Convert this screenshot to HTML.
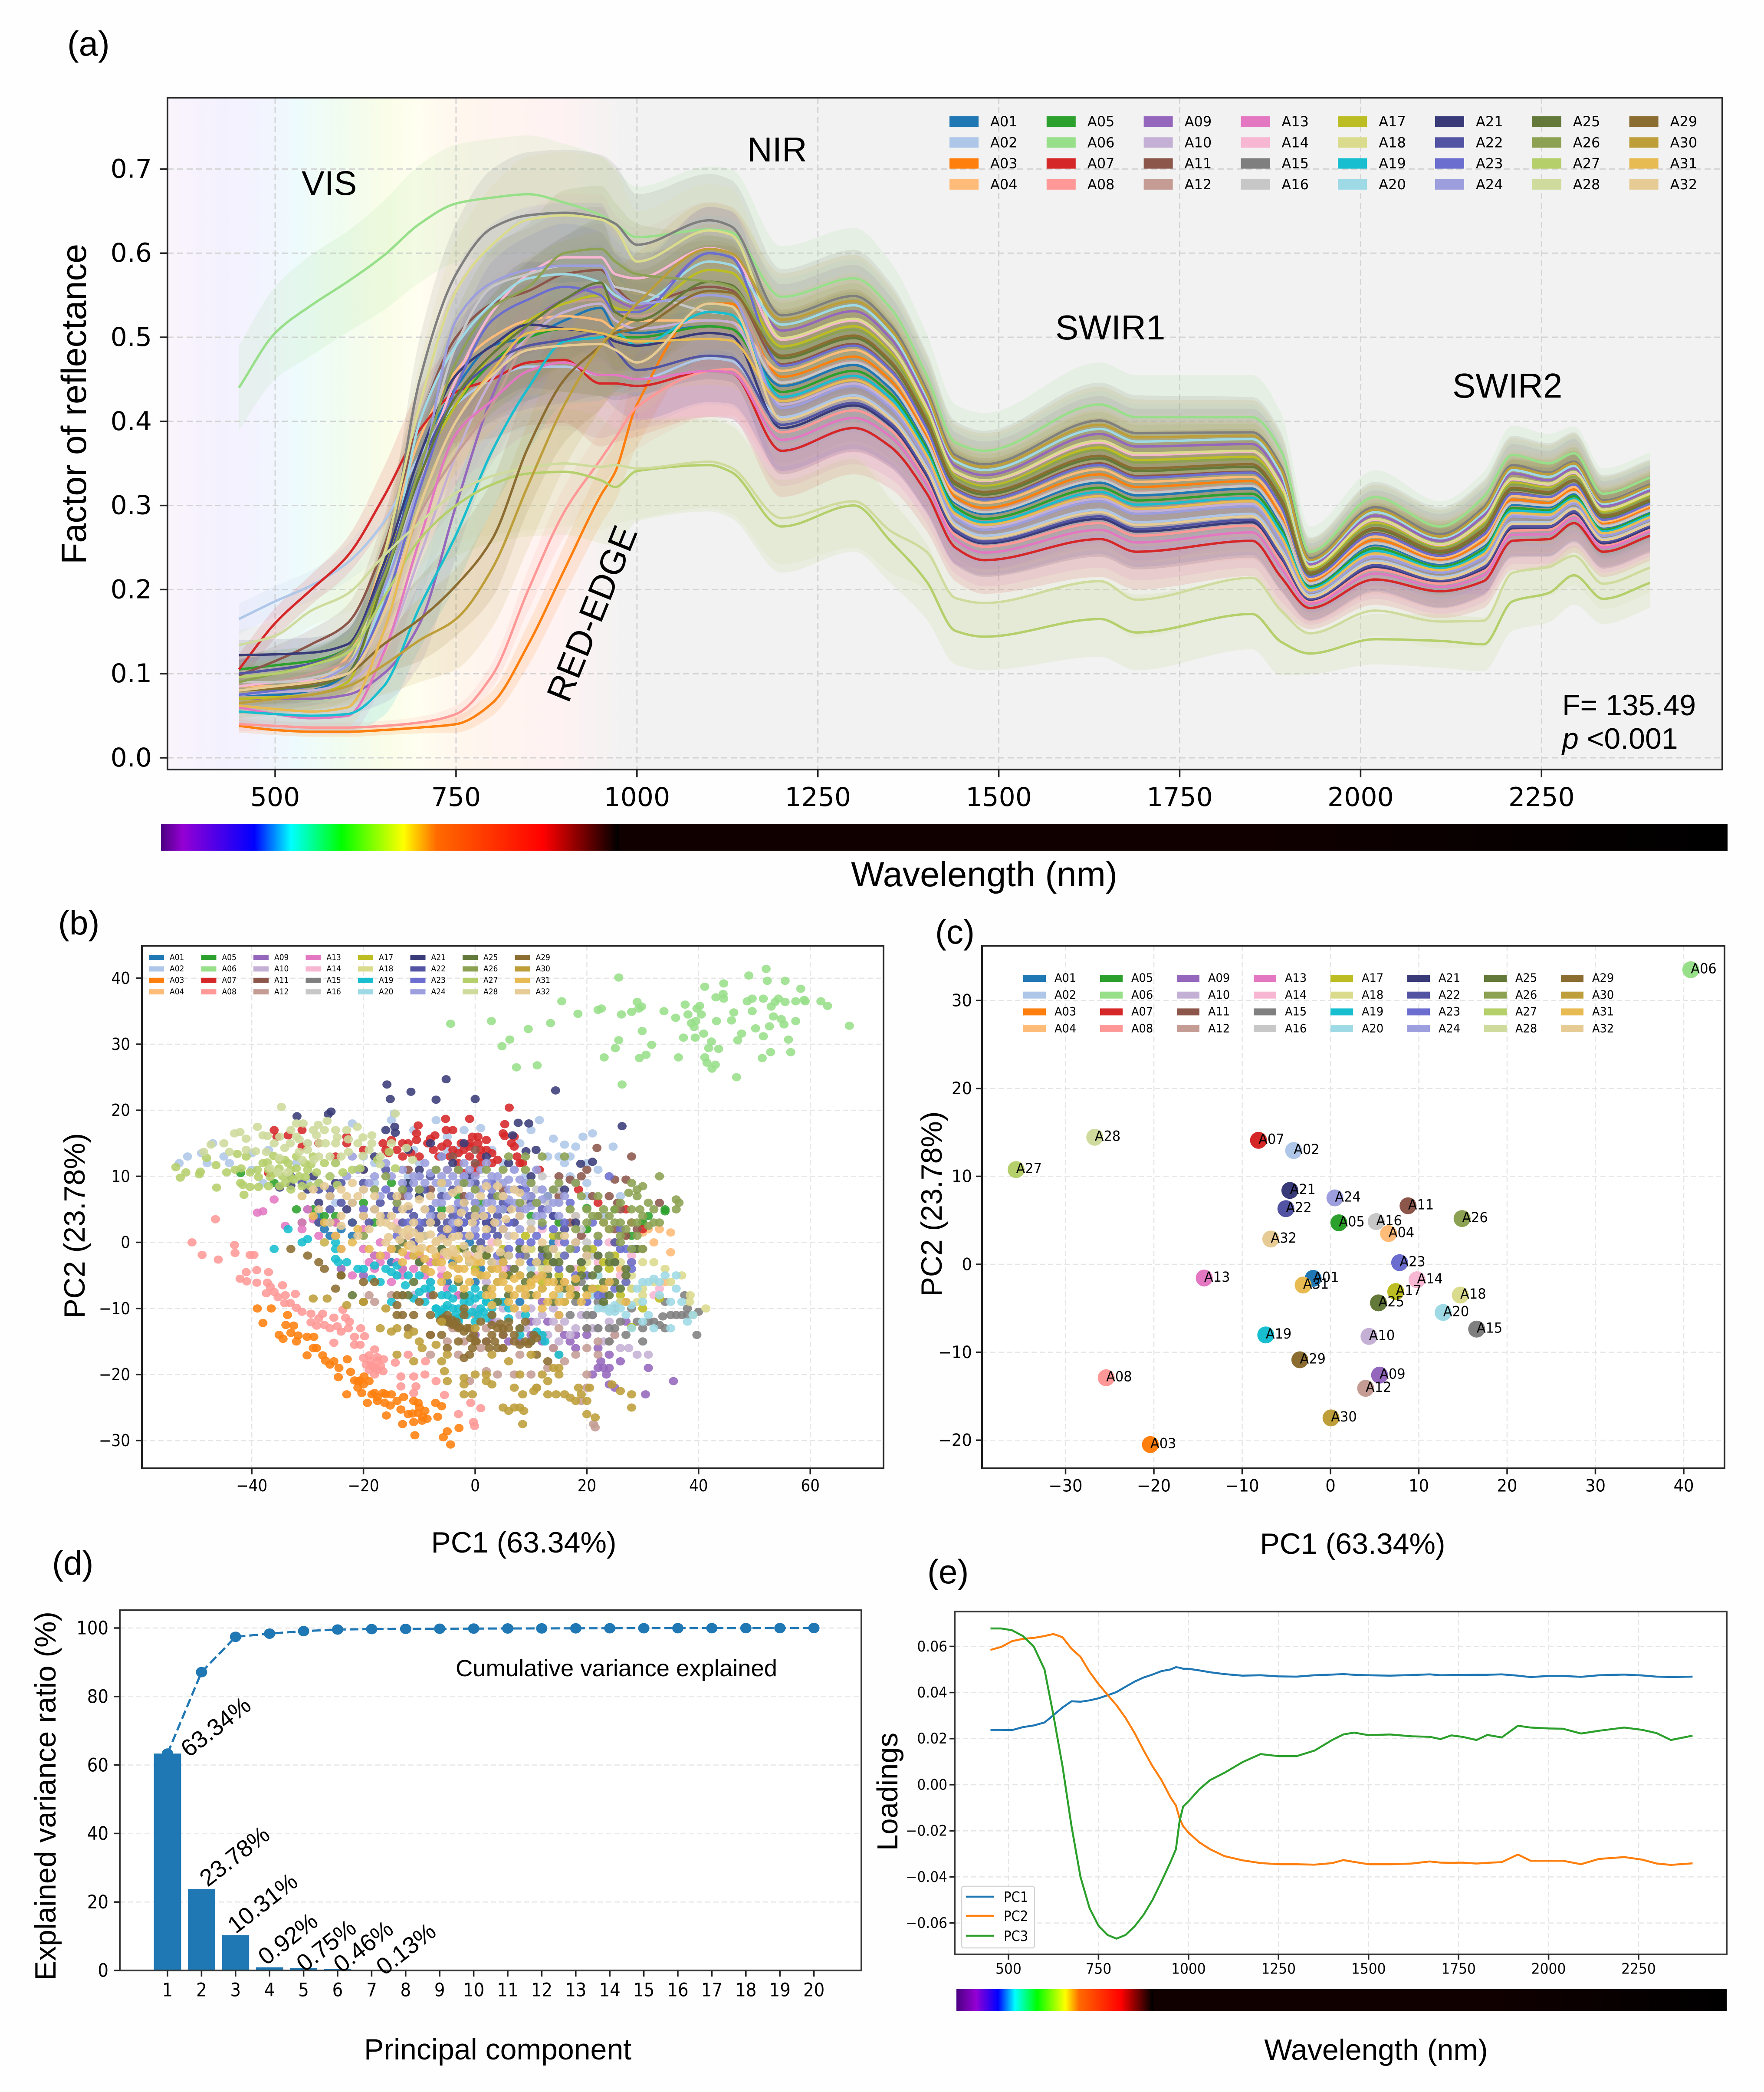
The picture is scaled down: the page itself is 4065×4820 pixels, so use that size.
<!DOCTYPE html>
<html lang="en">
<head>
<meta charset="utf-8">
<title>Spectral reflectance and PCA figure</title>
<style>
html,body{margin:0;padding:0;background:#fff;width:4065px;height:4820px;overflow:hidden}
svg{display:block}
text{fill:#000}
.ls{font-family:"Liberation Sans",sans-serif}
</style>
</head>
<body>
<svg id="figure" xmlns="http://www.w3.org/2000/svg" width="4065" height="4820" viewBox="0 0 4065 4820">
<defs>
<linearGradient id="visBg" gradientUnits="userSpaceOnUse" x1="386" x2="1440" y1="0" y2="0">
<stop offset="0" stop-color="#faf4fc"/><stop offset=".12" stop-color="#f4f1fe"/><stop offset=".22" stop-color="#f2f4fe"/><stop offset=".28" stop-color="#eefbfd"/><stop offset=".38" stop-color="#f1fcf0"/><stop offset=".48" stop-color="#fafde8"/><stop offset=".54" stop-color="#fffff0"/><stop offset=".64" stop-color="#fff6ee"/><stop offset=".85" stop-color="#fff2f2"/><stop offset="1" stop-color="#f2f2f2"/>
</linearGradient>
<linearGradient id="barA" gradientUnits="userSpaceOnUse" x1="371" x2="3981" y1="0" y2="0">
<stop offset="0" stop-color="#4b0082"/><stop offset=".0138" stop-color="#9400d3"/><stop offset=".0596" stop-color="#0000ff"/><stop offset=".083" stop-color="#00ffff"/><stop offset=".1154" stop-color="#00ff00"/><stop offset=".1548" stop-color="#ffff00"/><stop offset=".1759" stop-color="#ff6a00"/><stop offset=".244" stop-color="#ff0000"/><stop offset=".292" stop-color="#000000"/><stop offset=".2925" stop-color="#100000"/><stop offset=".7" stop-color="#100000"/><stop offset="1" stop-color="#000"/>
</linearGradient>
<linearGradient id="barE" gradientUnits="userSpaceOnUse" x1="2204" x2="3979" y1="0" y2="0">
<stop offset="0" stop-color="#4b0082"/><stop offset=".0254" stop-color="#9400d3"/><stop offset=".054" stop-color="#0000ff"/><stop offset=".076" stop-color="#00ffff"/><stop offset=".105" stop-color="#00ff00"/><stop offset=".1414" stop-color="#ffff00"/><stop offset=".1594" stop-color="#ff6a00"/><stop offset=".2135" stop-color="#ff0000"/><stop offset=".2546" stop-color="#000"/><stop offset=".256" stop-color="#100000"/><stop offset=".7" stop-color="#100000"/><stop offset="1" stop-color="#000"/>
</linearGradient>
<clipPath id="clipA"><rect x="386" y="225" width="3583" height="1548"/></clipPath>
<clipPath id="clipB"><rect x="327" y="2179" width="1709" height="1204"/></clipPath>
<clipPath id="clipC"><rect x="2263" y="2179" width="1711" height="1204"/></clipPath>
<clipPath id="clipE"><rect x="2200" y="3713" width="1779" height="790"/></clipPath>
</defs>
<rect width="4065" height="4820" fill="#fefefe"/>

<!-- panel a -->
<g id="panelA">
<rect x="386" y="225" width="3583" height="1548" fill="#f2f2f2"/>
<rect x="386" y="225" width="1054" height="1548" fill="url(#visBg)"/>
<g id="aGrid"></g>
<g id="aBands" clip-path="url(#clipA)"></g>
<g id="aSeries" clip-path="url(#clipA)"></g>
<g id="aLegend"></g>
<rect x="386" y="225" width="3583" height="1548" fill="none" stroke="#222" stroke-width="4"/>
<g id="aTicks"></g>
<text class="ls" x="155" y="128" font-size="80">(a)</text>
<text class="ls" x="695" y="449" font-size="79">VIS</text>
<text class="ls" x="1722" y="372" font-size="80">NIR</text>
<text class="ls" x="2432" y="782" font-size="80">SWIR1</text>
<text class="ls" x="3347" y="916" font-size="80">SWIR2</text>
<text class="ls" font-size="81" text-anchor="middle" transform="translate(1390,1424) rotate(-68)">RED-EDGE</text>
<text class="ls" x="3600" y="1648" font-size="68">F= 135.49</text>
<text class="ls" x="3600" y="1725" font-size="68"><tspan font-style="italic">p</tspan> &lt;0.001</text>
<text class="ls" font-size="81" text-anchor="middle" transform="translate(198,931) rotate(-90)">Factor of reflectance</text>
<rect x="371" y="1898" width="3610" height="62" fill="url(#barA)"/>
<text class="ls" x="2268" y="2042" font-size="81" text-anchor="middle">Wavelength (nm)</text>
</g>

<!-- panel b -->
<g id="panelB">
<rect x="327" y="2179" width="1709" height="1204" fill="#fff"/>
<g id="bGrid"></g>
<g id="bPoints" clip-path="url(#clipB)"></g>
<g id="bLegend"></g>
<rect x="327" y="2179" width="1709" height="1204" fill="none" stroke="#222" stroke-width="4"/>
<g id="bTicks"></g>
<text class="ls" x="134" y="2153" font-size="78">(b)</text>
<text class="ls" font-size="68" text-anchor="middle" transform="translate(195,2824) rotate(-90)">PC2 (23.78%)</text>
<text class="ls" x="1207" y="3577" font-size="68" text-anchor="middle">PC1 (63.34%)</text>
</g>

<!-- panel c -->
<g id="panelC">
<rect x="2263" y="2179" width="1711" height="1204" fill="#fff"/>
<g id="cGrid"></g>
<g id="cLegend"></g>
<g id="cPoints" clip-path="url(#clipC)"></g>
<rect x="2263" y="2179" width="1711" height="1204" fill="none" stroke="#222" stroke-width="4"/>
<g id="cTicks"></g>
<text class="ls" x="2155" y="2174" font-size="78">(c)</text>
<text class="ls" font-size="68" text-anchor="middle" transform="translate(2170,2774) rotate(-90)">PC2 (23.78%)</text>
<text class="ls" x="3117" y="3580" font-size="68" text-anchor="middle">PC1 (63.34%)</text>
</g>

<!-- panel d -->
<g id="panelD">
<rect x="276" y="3710" width="1709" height="830" fill="#fff"/>
<g id="dGrid"></g>
<g id="dBars"></g>
<g id="dLine"></g>
<rect x="276" y="3710" width="1709" height="830" fill="none" stroke="#333" stroke-width="4"/>
<g id="dTicks"></g>
<g id="dLabels"></g>
<text class="ls" x="120" y="3628" font-size="78">(d)</text>
<text class="ls" x="1050" y="3862" font-size="54" textLength="741" lengthAdjust="spacingAndGlyphs">Cumulative variance explained</text>
<text class="ls" font-size="68" text-anchor="middle" transform="translate(128,4138) rotate(-90)">Explained variance ratio (%)</text>
<text class="ls" x="1147" y="4745" font-size="68" text-anchor="middle">Principal component</text>
</g>

<!-- panel e -->
<g id="panelE">
<rect x="2200" y="3713" width="1779" height="790" fill="#fff"/>
<g id="eGrid"></g>
<g id="eLines" clip-path="url(#clipE)"></g>
<g>
<rect x="2216" y="4346" width="168" height="142" rx="5" fill="#fff" fill-opacity=".85" stroke="#d5d5d5" stroke-width="2.5"/>
<line x1="2226" x2="2290" y1="4370" y2="4370" stroke="#1f77b4" stroke-width="4.5"/>
<line x1="2226" x2="2290" y1="4414" y2="4414" stroke="#ff7f0e" stroke-width="4.5"/>
<line x1="2226" x2="2290" y1="4460" y2="4460" stroke="#2ca02c" stroke-width="4.5"/>
<text font-family="'DejaVu Sans',sans-serif" font-size="33" transform="translate(2313,4382) scale(.88,1)">PC1</text>
<text font-family="'DejaVu Sans',sans-serif" font-size="33" transform="translate(2313,4426) scale(.88,1)">PC2</text>
<text font-family="'DejaVu Sans',sans-serif" font-size="33" transform="translate(2313,4472) scale(.88,1)">PC3</text>
</g>
<rect x="2200" y="3713" width="1779" height="790" fill="none" stroke="#333" stroke-width="4"/>
<g id="eTicks"></g>
<text class="ls" x="2137" y="3648" font-size="78">(e)</text>
<text class="ls" font-size="67" text-anchor="middle" transform="translate(2068,4128) rotate(-90)">Loadings</text>
<rect x="2204" y="4583" width="1775" height="51" fill="url(#barE)"/>
<text class="ls" x="3171" y="4746" font-size="68" text-anchor="middle">Wavelength (nm)</text>
</g>
</svg>

<script>
// ---------- shared categories ----------
const groupNames = ['A01','A02','A03','A04','A05','A06','A07','A08','A09','A10','A11','A12','A13','A14','A15','A16','A17','A18','A19','A20','A21','A22','A23','A24','A25','A26','A27','A28','A29','A30','A31','A32'];
const groupColors = ['#1f77b4','#aec7e8','#ff7f0e','#ffbb78','#2ca02c','#98df8a','#d62728','#ff9896','#9467bd','#c5b0d5','#8c564b','#c49c94','#e377c2','#f7b6d2','#7f7f7f','#c7c7c7','#bcbd22','#dbdb8d','#17becf','#9edae5','#393b79','#5254a3','#6b6ecf','#9c9ede','#637939','#8ca252','#b5cf6b','#cedb9c','#8c6d31','#bd9e39','#e7ba52','#e7cb94'];

// ---------- panel a data ----------
const aWavelengths = [450,500,550,600,650,700,750,800,850,900,950,970,1000,1100,1130,1200,1300,1350,1400,1440,1480,1640,1690,1850,1890,1930,2020,2110,2170,2210,2260,2295,2335,2400];
const aXTicks = [500,750,1000,1250,1500,1750,2000,2250];
const aYTicks = [0,0.1,0.2,0.3,0.4,0.5,0.6,0.7];
const rA01 = [.075,.075,.08,.10,.21,.36,.44,.49,.50,.52,.535,.51,.505,.513,.51,.442,.467,.439,.374,.303,.29,.327,.312,.32,.278,.206,.253,.23,.252,.301,.298,.314,.274,.293];
const rA02 = [.165,.186,.205,.232,.28,.36,.42,.45,.465,.465,.455,.455,.45,.475,.472,.405,.431,.406,.346,.278,.264,.295,.28,.29,.248,.193,.234,.215,.232,.28,.28,.297,.26,.279];
const rA03 = [.038,.033,.031,.031,.033,.036,.04,.065,.135,.224,.312,.34,.42,.54,.54,.453,.477,.449,.382,.31,.297,.337,.322,.329,.287,.21,.259,.235,.258,.307,.303,.319,.278,.297];
const rA04 = [.085,.085,.09,.12,.24,.38,.46,.50,.52,.525,.52,.51,.52,.52,.518,.46,.485,.456,.388,.315,.303,.343,.328,.334,.293,.213,.263,.238,.262,.311,.307,.322,.281,.30];
const rA05 = [.105,.11,.115,.13,.22,.34,.42,.47,.50,.51,.505,.50,.50,.513,.51,.435,.46,.433,.368,.298,.284,.321,.306,.314,.272,.203,.249,.227,.248,.297,.294,.311,.271,.29];
const rA06 = [.44,.505,.538,.566,.597,.635,.659,.666,.67,.66,.645,.635,.619,.628,.625,.548,.57,.535,.455,.375,.365,.42,.405,.405,.365,.245,.31,.275,.31,.36,.35,.362,.314,.333];
const rA07 = [.105,.16,.20,.24,.31,.39,.435,.45,.47,.473,.445,.445,.442,.46,.458,.365,.392,.37,.315,.25,.235,.26,.245,.258,.215,.178,.212,.198,.21,.258,.26,.279,.245,.264];
const rA08 = [.04,.038,.036,.036,.038,.042,.052,.098,.20,.293,.355,.38,.417,.46,.462,.387,.413,.39,.332,.265,.251,.279,.264,.276,.233,.186,.224,.207,.222,.27,.271,.289,.253,.272];
const rA09 = [.07,.07,.07,.075,.10,.16,.30,.43,.515,.545,.56,.545,.535,.60,.595,.508,.531,.499,.424,.347,.336,.385,.37,.373,.332,.23,.288,.258,.288,.338,.33,.344,.299,.318];
const rA10 = [.075,.078,.08,.09,.13,.24,.36,.45,.50,.53,.54,.52,.51,.52,.518,.42,.445,.42,.357,.288,.274,.308,.293,.302,.26,.198,.241,.221,.24,.289,.287,.304,.266,.285];
const rA11 = [.098,.115,.135,.16,.25,.40,.50,.54,.555,.575,.58,.56,.54,.56,.556,.468,.492,.462,.393,.32,.308,.35,.335,.34,.299,.216,.267,.241,.266,.315,.31,.325,.284,.303];
const rA12 = [.085,.09,.10,.115,.18,.29,.36,.42,.50,.54,.545,.53,.525,.55,.547,.447,.472,.444,.378,.306,.294,.332,.317,.324,.283,.208,.256,.233,.255,.304,.30,.316,.276,.295];
const rA13 = [.06,.052,.047,.05,.125,.26,.385,.425,.46,.47,.455,.455,.45,.46,.458,.378,.404,.382,.325,.259,.244,.271,.256,.268,.226,.183,.219,.203,.217,.265,.266,.285,.25,.269];
const rA14 = [.085,.09,.092,.10,.17,.33,.45,.53,.575,.595,.595,.575,.57,.606,.60,.497,.52,.489,.416,.34,.329,.375,.36,.364,.323,.226,.283,.253,.282,.331,.325,.339,.295,.314];
const rA15 = [.10,.105,.11,.13,.22,.45,.575,.63,.645,.648,.642,.635,.61,.639,.632,.526,.549,.515,.438,.36,.349,.401,.386,.387,.347,.237,.298,.266,.298,.348,.339,.352,.306,.325];
const rA16 = [.09,.09,.095,.11,.19,.34,.49,.56,.575,.585,.585,.56,.555,.53,.527,.446,.47,.443,.377,.305,.292,.33,.315,.323,.281,.207,.255,.232,.254,.303,.30,.316,.275,.294];
const rA17 = [.07,.072,.075,.09,.22,.34,.42,.48,.52,.54,.55,.535,.53,.58,.577,.489,.513,.482,.41,.335,.323,.369,.354,.358,.317,.224,.279,.25,.278,.327,.321,.335,.292,.311];
const rA18 = [.08,.085,.09,.11,.24,.42,.555,.61,.64,.645,.64,.63,.59,.627,.622,.499,.522,.49,.417,.341,.33,.377,.362,.365,.325,.227,.284,.254,.283,.332,.326,.34,.295,.314];
const rA19 = [.055,.052,.05,.052,.085,.18,.265,.365,.44,.495,.50,.505,.49,.53,.527,.429,.454,.428,.364,.294,.28,.316,.301,.309,.268,.201,.246,.225,.245,.294,.292,.308,.269,.288];
const rA20 = [.075,.08,.085,.10,.19,.40,.49,.54,.57,.575,.565,.55,.54,.59,.586,.515,.538,.505,.43,.353,.342,.391,.376,.379,.338,.233,.292,.261,.292,.342,.334,.347,.302,.321];
const rA21 = [.122,.123,.125,.135,.23,.36,.455,.49,.515,.51,.505,.495,.49,.505,.502,.392,.419,.395,.336,.269,.255,.284,.269,.28,.238,.188,.227,.21,.225,.273,.274,.291,.255,.274];
const rA22 = [.10,.105,.112,.13,.22,.345,.43,.47,.49,.497,.505,.485,.461,.478,.476,.396,.422,.398,.339,.271,.257,.287,.272,.283,.24,.189,.229,.211,.227,.275,.275,.293,.257,.276];
const rA23 = [.075,.08,.085,.10,.18,.32,.44,.52,.545,.56,.55,.53,.53,.60,.595,.466,.49,.461,.392,.319,.307,.348,.333,.339,.298,.215,.266,.24,.265,.314,.31,.325,.283,.302];
const rA24 = [.08,.085,.09,.11,.20,.33,.52,.565,.58,.585,.585,.555,.54,.55,.547,.416,.442,.416,.354,.285,.271,.305,.29,.299,.257,.197,.239,.22,.238,.287,.285,.302,.264,.283];
const rA25 = [.08,.082,.085,.10,.21,.335,.43,.48,.515,.545,.565,.53,.52,.566,.562,.475,.499,.469,.399,.325,.313,.356,.341,.346,.305,.218,.271,.244,.27,.319,.314,.329,.286,.305];
const rA26 = [.09,.10,.11,.13,.215,.345,.47,.535,.56,.60,.605,.59,.575,.566,.56,.486,.509,.479,.407,.333,.321,.366,.351,.355,.314,.222,.277,.249,.276,.325,.319,.334,.29,.31];
const rA27 = [.096,.10,.11,.125,.19,.26,.30,.325,.338,.34,.33,.322,.341,.348,.34,.275,.30,.258,.21,.151,.144,.165,.149,.171,.138,.124,.141,.139,.135,.186,.196,.217,.189,.208];
const rA28 = [.134,.145,.175,.195,.24,.28,.315,.335,.345,.35,.346,.348,.344,.352,.345,.285,.305,.27,.245,.19,.184,.21,.188,.214,.175,.148,.175,.162,.163,.22,.227,.24,.207,.226];
const rA29 = [.08,.083,.088,.10,.135,.165,.205,.26,.37,.45,.49,.505,.51,.555,.553,.478,.502,.472,.402,.328,.316,.359,.344,.349,.308,.22,.273,.246,.272,.321,.316,.33,.288,.307];
const rA30 = [.065,.07,.075,.085,.11,.14,.165,.225,.325,.42,.49,.51,.54,.605,.60,.521,.543,.51,.434,.356,.346,.396,.381,.383,.343,.235,.295,.263,.295,.345,.337,.35,.304,.323];
const rA31 = [.062,.058,.055,.06,.15,.30,.40,.46,.505,.51,.505,.50,.495,.498,.496,.424,.449,.423,.36,.29,.277,.311,.296,.305,.263,.199,.243,.223,.242,.291,.289,.306,.267,.286];
const rA32 = [.08,.085,.09,.10,.17,.30,.40,.455,.485,.49,.492,.485,.47,.54,.537,.402,.428,.403,.343,.275,.261,.292,.277,.287,.245,.191,.232,.213,.23,.278,.278,.296,.259,.278];
const reflectance = [rA01,rA02,rA03,rA04,rA05,rA06,rA07,rA08,rA09,rA10,rA11,rA12,rA13,rA14,rA15,rA16,rA17,rA18,rA19,rA20,rA21,rA22,rA23,rA24,rA25,rA26,rA27,rA28,rA29,rA30,rA31,rA32];
const sdMain = [.018,.018,.018,.022,.035,.05,.06,.07,.075,.075,.075,.07,.06,.055,.055,.055,.055,.05,.045,.04,.04,.045,.045,.042,.04,.025,.03,.032,.032,.035,.035,.035,.03,.03];
const sdA06 = [.05,.055,.06,.06,.065,.07,.07,.07,.07,.07,.07,.065,.06,.075,.075,.06,.06,.055,.05,.045,.045,.05,.05,.05,.045,.03,.032,.03,.03,.035,.035,.032,.03,.03];
const sdLow = [.008,.006,.006,.006,.006,.007,.01,.015,.025,.03,.035,.035,.05,.055,.055,.05,.05,.045,.04,.035,.035,.04,.04,.04,.035,.025,.03,.03,.03,.03,.03,.03,.028,.028];

// ---------- panel b data (PC1, PC2 pairs) ----------
const bXTicks = [-40,-20,0,20,40,60];
const bYTicks = [-30,-20,-10,0,10,20,30,40];
const pA01 = [-30,5,-28,4,-27,2,-25,3,-13,-4,-6,-1,-1,0,3,-3,6,-2,10,-3,14,0,-9,1,-4,-3,1,-4,-18,-2,-22,1,8,-1,12,-5,-26,3,-24,2,-26,1,-15,-3,-10,-3,-5,-6,0,-6,5,-5,8,-9,12,-3];
const pA02 = [-51.5,13,-49,13.5,-45,13,-44,12,-47,15,-40,13.5,-37,14,-30,15,-15,18.5,-14.5,19.5,-11,17,-7,18.5,1,17.3,10,17,11.5,18.5,14,15.7,16,14.8,19.3,16,21,16.5,24.7,14.5,17,13,18,14.5,16,12,11,11,22,11,26,7,8,15,-5,16,-3,14,-20,13,-10,12,-18,9,5,12,-1,10,-12,10,-6,8,12,8,20,9,-53,12,-48,12,-40,11,-32,12,-22,18,-11,14,-5,14,-2,17,0,12,3,14,7,11,9,10,13,13,15,13,17,10,20,12,-30,9,-25,6,-38,9,-18,12,-2,9,2,9,20,7,23,4,30,3];
const pA03 = [-39,-10,-36.5,-10,-38,-12.2,-33.6,-11,-33.9,-12.5,-32.5,-12.6,-35.1,-14,-34.4,-14.6,-31.7,-14.1,-30.1,-14.3,-28.9,-14.3,-30.1,-17.1,-28.4,-16,-27.3,-17.1,-26.8,-17.9,-25.3,-18,-24.4,-19,-22.9,-17.7,-24.5,-20.4,-23,-23,-22.3,-19.6,-21.6,-20.9,-20.6,-20.9,-19.9,-20.3,-20.3,-22.8,-19.3,-24.3,-18,-22.8,-17.5,-23.4,-16.5,-22.8,-16.2,-24.3,-15.9,-26.2,-15.2,-24.7,-13.3,-25.3,-12.8,-23.4,-13,-27.5,-11,-27.2,-10.8,-29.2,-11.2,-25.9,-10.2,-24.3,-10.2,-25.8,-9.4,-26.4,-8.6,-26.7,-7.1,-24.3,-6.7,-26.4,-6,-24.8,-5.7,-29.5,-5,-28.6,-4.4,-30.6,-2.9,-28.1,-21,-22,-20,-21.5,-19,-21,-21,-21,-15,-23,-14,-24,-10,-25,-9,-25.5,-18.5,-23,-17.5,-24,-16,-23,-11,-24,-9.5,-27,-12,-26,-26,-18.5,-29,-16,-32,-15,-33,-13.7];
const pA04 = [35,1.5,31,2,30,1.5,35,-1.5,28,-3,29,-1,25,0,22,1,23,3,20,2,18,4,15,3,12,5,9,6,6,3,3,5,-20,11,32,0,26,-4,34,-6,30,3,27,1,33,2,24,2,26,2,16,2,3,3];
const pA05 = [-42,10.5,-29,5,-32,5,-36,9,-28,3,-25,4,-20,6,-15,9,-8,5,-3,7,1,6,5,5,10,4,15,3,20,2,25,5,28,1,34,5,34,4.7,20,5.2,-31,3,-27,4,-22,3,-18,3,-10,7,-6,5,-12,9,30,3,31,4,13,7];
const pA06 = [-4.4,33.1,2.9,33.5,4.8,29.7,6.2,30.7,7.4,26.5,9.5,32.3,11.1,26.8,13.5,33.2,15.5,36.5,18.4,34.6,22,35.2,22.6,35.4,23.1,28,25.1,29.4,25.7,30.6,26.2,34.5,25.7,40.1,26.3,23.9,28,34.9,29,36.4,29.3,35.4,29.8,35.7,29.9,32,29.4,27.9,30.6,28.4,31.6,29.9,33.8,35,35.9,34,36.4,28,37.3,31,37.6,36,38.1,34.5,38.7,33.2,39.2,32.6,39.4,31,39.7,35.4,40.2,35.8,40.5,34.5,39.5,33.5,40.9,31.6,41.1,28,41.5,27.2,41.8,29.4,42.4,26.3,43,26.9,42.3,30.4,43.6,29.3,43.2,33.5,41.1,38.7,43.1,37.1,44.5,39.2,44.4,37.6,44.5,36.9,45.9,33.6,46.3,34.8,46.8,25,47,30.6,47.7,31.6,49,40.4,48.7,36.5,49.6,36.9,49.6,35,50.2,32.4,51.4,27.9,51.6,31.2,51.6,36.9,52.1,41.4,52.3,39.6,52.7,32.7,52.9,28.8,53,35.7,53.7,36.4,53.4,34.2,54.3,36.9,54.8,33.8,55.5,39.6,55.5,36.4,55.3,33,56.1,30.7,56.5,28.8,57.4,36.5,57.4,33.5,58.3,38.4,58.9,36.7,59.1,36.5,61.9,36.5,63.1,35.8,67,32.8];
const pA07 = [6.1,20.4,-5.3,18.7,-1,18.7,5.3,17.9,5.3,16.1,7,16,-10.2,17.7,-7.2,16.2,-5.2,17,-4,17,-15,15.5,-12,15,-10.5,15.5,-8.5,15,-6,14.5,-4.5,13,-2.5,15,-1,14.5,.5,16,2,15.5,1,14,-1,13,3,13.5,-3,12,0,11.5,-10,13,7,14.5,8,12,11.5,11,-35.5,16,-33.5,16.2,-31,17,-28,15,-23,16,18.5,8,22,6,27,5,28,3,30,2,-16.5,15,-16,14,-15.5,13.5,-14,14,-13,13,-13,15,-11.5,13.5,-10.5,16.5,-8,15.7,-7.5,14,-6.5,13,-5,15,-4,14,-3,13.5,-2,14,-1,15,-.5,16,.5,15,1,13,1,12,0,10.5,-2,10.5,-3,11,2,14,3,12,4,12.5,5,16.5,6.5,15,7.5,13,8.5,12,-23,15,-25,13,-31,14.5,-20,14,-37,10.5,-36,17];
const pA08 = [-50.7,0,-48.9,-1.9,-46.5,3.5,-46,-2.6,-43.1,-.4,-43,-1.6,-40.3,-1.9,-39.6,-1.9,-39.1,-4.2,-37,-4.5,-42.1,-5.5,-41,-4.5,-40.9,-5.9,-39.1,-6.1,-37.2,-6.1,-36.7,-6.7,-37.4,-7.7,-34.5,-6.5,-35.3,-8.3,-32.2,-7.8,-34.1,-9.2,-33.1,-9.2,-32,-9.9,-29.4,-10.8,-27.3,-10.8,-29.4,-12.1,-28.4,-12.6,-25.3,-11.4,-23.7,-10.2,-23.2,-11.4,-24.7,-12.7,-22.7,-13,-21.6,-14.3,-19.8,-14.2,-25.3,-15.2,-21.6,-15.5,-20.6,-15.5,-18,-16.2,-19,-17.1,-17.5,-17.4,-16.4,-17.7,-18.5,-18.7,-16.9,-18.7,-19,-19.3,-17.5,-19.3,-14.3,-18.2,-8.9,-18,-13.3,-20.3,-11,-20.3,-13.3,-21.8,-10.6,-21.8,-11,-22.8,-5.5,-23.1,-.8,-24.3,1,-25.1,-.3,-27.2,-.1,-27.8,-20,-17.5,-19.5,-18.5,-18.8,-18,-18,-19,-17.5,-18,-16.5,-19.5,-18,-20,-28,-11.5,-27,-12.5,-26,-13,-24,-13.5,-22.5,-12,-20.5,-13,-9,-20,-7,-21,-3,-26,-12,-17,-36,-7.5,-34,-8,-31,-10.5];
const pA09 = [35.5,-21,30.5,-23,31,-19,26,-18,24,-21.5,23,-19,22.5,-18,24,-17,22,-16,23.5,-20,17,-15,18,-16,16,-14,13,-12,10,-12,8,-15,5,-14,0,-14,3,-12,-20,-5,-24,-4,20,-14,27,-12,-3,-8,-8,-8,12,-9,5,-9,6,-4,24,-19,25,-22,21,-20,22,-19,18,-14,14,-16,10,-14,6,-15,2,-15,12,-15,15,-11];
const pA10 = [31,-17,29,-17,27.5,-16,25,-14,22,-13,21,-11,18,-13,16,-12,14,-10,10,-10,9,-8,12,-5,6,-8,2,-6,-3,-4,-8,-6,-11,-8,-14,-5,0,-10,5,-13,20,-9,4,-3,13,-14,8,-11,9,-13,11,-12,12,-11,14,-12,15,-15,17,-14,19,-11,21,-13,23,-15,24,-12,26,-16,5,-10,4,-12];
const pA11 = [20,11,21.8,14.3,28,13,15,10,17,9.5,19,10,25,9.5,27,9.5,25.5,6,24,7,21,7,33,6,29,2,25,2,30,-1,15,7,10,7,5,8,0,14,-5,11,-12,11,-25,3,-20,4,3,3,8,5,12,5,-8,8,-2,7,17,3,19,1,0,12,-4,13,-13,7,15,1,22,4,26,5,27,1];
const pA12 = [21.5,-28,21.2,-27.5,20,-22,19,-24,10,-20,13,-19,4,-20,-1,-21,2,-19.5,-15,-8,-19,-8,-8,-14,5,-16,8,-17,16,-18,20,-16,22,-15,12,-14,15,-13,2,-13,0,-11,7,-10,-4,-13,25,-14,20,-13,-3,-17,-8,-17,-5,-15,-2,-15,1,-16,7,-20,11,-22,15,-17,18,-17,22,-17,24,-15,10,-15,14,-16,-18,-9,20,-20];
const pA13 = [-36,6.5,-39,4.5,-38,4.7,-34,2.5,-31,3,-31,2,-29,3.5,-30,5,-25,3,-25,1,-24,-1,-20,-1,-18,-2,-17,-3,-15,-1,-13,-4,-10,-2,-17,0,-12,1,-8,-3,-20,2,-28,1,-22,-5,-6,-5,-15,-6,-19,-3,-18,-4,-16,-2,-14,-3,-13,-5,-12,-2,-11,-4,-9,-5,-8,-1,-6,-2,-5,-7,-3,-8];
const pA14 = [-20,5,-14,3,-5,2,3,0,8,-2,14,-3,18,-4,22,-3,26,-5,28,-2,33,-7,15,0,10,-4,20,-1,24,0,32,-8,12,2,6,1,-1,-2,-8,-1,-6,-4,5,-4,7,-4,11,-5,16,-6,18,-7];
const pA15 = [39.7,-14,37.5,-8,37,-11,35,-11,33.6,-11.2,36,-11,34,-13,30,-15,33,-12.5,34,-9,38,-11,40,-10.5,25,-10,24,-13,26,-12,23,-8,20,-11,18,-9,17,-11,28,-10,22,-13,15,-6,27,-9,19,-6,31,-12,12,-3,9,-2,5,-3,22,-9,23,-9.5,21,-11,20,-13,25,-13,27,-14,29,-12,30,-13,32,-12,38,-10,24,-15,26,-9];
const pA16 = [12,10,15,6,18,4,20,0,22,1,8,8,4,9,-2,5,2,3,10,3,6,1,13,-1,0,8,-5,7,26,-1,16,2,9,6,11,8,13,6,15,8,17,5,19,2,21,-2,7,3];
const pA17 = [33,-8.5,28,-12.8,30,-10,24,-4,20,-5,16,-2,13,-3,10,-1,8,-3,5,-1,2,-2,0,-4,-3,-1,6,-5,12,-6,18,-8,22,-7,26,-8,14,1,9,1,12,-2,15,-5,23,-3,25,-2,27,-6,21,-1,28,-7,19,-4];
const pA18 = [38.5,-8,38.4,-9,41.3,-10,37,-5,39,-11,35,-6,30,-3,28,-7,26,-9,24,-6,22,-5,32,-6,30,-8,28,-5,26,-3,20,-3,18,-6,15,-2,12,-4,10,-1,20,-5,34,-4,30,-7,32,-3,29,-9];
const pA19 = [-36,-1,-33.5,2,-31,0,-30,.5,-27,0,-25,0,-24.5,-3,-25,-1,-23,-3,-25,-2.5,-21,-4,-20,-4,-18.5,-5.5,-17,-6,-15,-4.5,-14,-5,-12,-5,-10,-5,-8,-6,-15,-9,-13,-8,-11,-8.5,-8,-7,-6,-8,-5,-9.5,-6,-11,-4.5,-12,-3,-10,-2,-9,-1,-9,-4,-7,-2,-8,0,-7,1,-10,0,-12,2,-9,3,-11,4,-9,6,-10,8,-13,10,-15,12,-14,15,-17,9,-11,-7,-10,-9,-9,-3,-12,-7,-10,-6.5,-11,-6,-10.5,-5.5,-10,-4,-10,-3.5,-11,-3,-11.5,-2,-10.5,-1.5,-11,-.5,-10.5,.5,-11,1.5,-10.5,2,-11.5,3,-10,3.5,-9,5,-9,6,-11.5,-5,-8,-4,-8.5,-1,-8,0,-8.5,1,-8,2,-9,-16,-4,-14,-3.5,-18,-3.5,-12.5,-6.5,-10,-7.5,-9,-7,8,-14,11,-13.5,12.5,-15];
const pA20 = [31,-6,32,-5.5,33,-8,30,-9,28,-9.5,30,-12,32,-13,35,-13,37,-9,36,-7,35,-9,39,-11,25,-9.5,24,-10.5,22,-10,20,-7,17,-7,13,-5,10,-4,26,-7,22,-5,31,-11,28,-13,8,-7,38,-12,23,-10,24,-10,25,-10.5,26,-10,27,-11,29,-7,30,-6,33,-6,34,-5,36,-5,21,-8,18,-6,15,-8];
const pA21 = [-15.8,23.9,-15.2,21.7,-11.5,22.8,-7,21.6,-5.2,24.7,0,21.7,14.4,23,26.3,17.6,-31.9,19.1,-25.8,19.8,-26.3,19.4,-16,17,-14.4,17.5,-14.3,16.6,7.7,18.1,9.6,18,6.7,16.2,9.1,13.8,10.9,14,18.9,11.9,21,12.2,-33,8.6,-35,8.3,-29,10,-25,9,-20,11,-12,14,-8,15,-4,12,-1,10,3,8,6,5,10,7,14,4,18,3,-10,7,-6,4,-2,6,2,3,-30,8,-28,6,-26,7,-23,5,-18,13,-12,9,-10,11,-6,13,-2,15,2,13,6,12,-7,3,-3,2,-1,1,3,3,5,2,12,-1,10,10,16,8];
const pA22 = [-33,10,-31,9,-28,8,-26,5,-28,3,-22,6,-18,5,-15,7,-12,5,-9,8,-6,7,-3,5,0,4,3,7,6,3,-8,3,-14,2,-11,0,-5,1,1,0,4,1,10,6,14,4,-20,9,-16,11,-24,9,-2,9,8,8,16,2,25,0,-10,10,-19,3,-17,6,-16,4,-14,5,-13,3,-11,4,-10,2,-9,3,-7,4,-6,2,-5,3,-4,4,-3,2,-2,3,-1,4,0,6,1,4,2,3,3,2,4,4,5,6,6,5,7,3,-12,8,-8,10,-4,8,0,9,-24,6,-22,3,-26,8];
const pA23 = [24,10,27,-1,28,-3,28.5,-1,25,-3,22,-2,20,-5,24,-6,23,-8,18,0,16,3,14,-1,11,1,8,-2,5,2,2,-1,0,3,-3,4,-6,1,-10,3,-14,1,-20,5,6,6,12,5,17,6,21,3,9,8,3,9,-2,10,-16,8,26,2,15,-4,10,-3,19,-3,-6,4,-4,2,-2,1,0,5,2,4,4,5,6,3,8,4,10,2,12,2.5,14,2,16,0,18,-1,20,-2,22,0,24,-2,26,-1,28,-4,27,-6,25,-7,22,-8,20,-9,18,-5,16,-2,14,-3,12,-2,10,0,8,0,6,-1,4,-2,2,1,0,1,-2,3,-8,5,-12,3,-3,6];
const pA24 = [-25,12,-22,13,-18,10,-16,12,-13,9,-11,10,-9,12,-7,9,-5,11,-3,9,-1,11,1,8,3,10,5,9,7,11,9,9,10,7,12,8,14,6,16,7,-20,8,-17,7,-14,6,-12,7,-9,5,-7,6,-5,7,-3,6,-1,7,1,5,3,6,5,5,7,6,9,5,11,4,13,5,15,4,-6,13,-2,12,2,12,-4,3,0,2,4,3,8,2,-10,8,6,8,11,11,-15,10,-8,4,18,9,-11,9,-10,10,-9,9,-8,10.5,-7,11,-6,10,-5,9,-4,10,-3,11,-2,10,-1,9,0,10,1,11,2,9,3,8,4,10,5,7,6,9.5,7,8,8,9.5,9,7,10,9,11,6,12,6.5,13,7,14,8,15,6,-8,7,-6,6,-4,5,-2,5,0,6,2,6,4,5,6,6.5,8,5,10,5.5,12,4,-13,11,-23,10,-26,10,-28,9,-21,11,-19,9];
const pA25 = [-13,0,-11,-2,-9,-4,-7,-3,-5,-5,-3,-6,-1,-3,1,-5,3,-4,5,-2,7,-4,9,-6,11,-3,13,-5,15,-6,17,-4,19,-5,21,-7,23,-6,25,-3,27,-4,29,-1,-2,-8,2,-7,6,-8,10,-8,14,-9,18,-8,22,-2,12,-1,8,-1,-24,-5,-22,-8,-12,-8,14,-3,16,-9,-6,-1,-4,-2,-2,-1,0,-1,2,-2,4,-6,6,-5,8,-5,10,-5,12,-7,13,-2,15,-3,16,-7,18,-6,19,-3,20,-7,21,-5,22,-4,23,-9,24,-3,25,-6,26,-7,27,-5,24,-8,-14,-1,-11,-6,-10,-3,4,-9];
const pA26 = [33,10,36.5,6,36,6.5,36,5,30,8.5,29,8,28,9,29,7,27.5,7.5,29.5,5,28,3,32,3,31,2.5,33,3,25,5,24,4,26,3,23,3,20,5,18,9,16,13,12,13,9,13,6,13,2,11,-2,9,-6,9,-10,8,-14,6,-18,8,10,9,14,8,22,1,26,0,29,1,18,2,12,3,8,6,4,7,0,5,20,-1,24,-2,15,1,30,-1,22,7,20,3,21,4,22,4,23,5,24,2,25,3,26,6,27,2,28,5,29,3,30,4,31,6,32,5,19,7,17,5,15,9,11,6,9,11,5,11,0,8,-3,11,-7,11,-13,8,-16,10,-20,1,28,-1,26,1,17,-1,13,-1];
const pA27 = [-53.6,11.4,-52.8,9.8,-51.8,10.6,-49.4,10.3,-49.2,10.7,-48.1,12.8,-46.4,11.7,-46.3,8.3,-44.5,10.6,-42.6,13.4,-41.9,11.2,-41.4,7.2,-41.6,8.7,-40.3,8.4,-38.8,8.4,-38.8,9.9,-36.7,9.9,-40.3,10.6,-35.1,11.2,-34.1,12.5,-32,11.2,-30.4,9.9,-29.4,11.8,-37.2,12.1,-36.1,13.1,-33.1,9.9,-28.4,10.6,-23.7,10.6,-24.7,8.7,-20.6,11.2,-17.5,12.5,-15.4,13.7,-14.3,11.2,-38,12,-37,11,-36,10.5,-35,12.5,-34.5,10,-34,9,-33.5,12,-33,11,-32.5,9.5,-32,13,-31.5,10,-31,8.5,-30.5,12,-30,11,-29.5,8.5,-29,13,-35,8.5,-37,8.5,-33,8,-31,7,-28,9,-27,12,-26,10,-25,12,-22,11,-42,9,-43,11,-39,11,-41,13];
const pA28 = [-47.3,14.8,-48.6,13.7,-44,13.7,-43.1,16.5,-42.1,16.7,-41,15.7,-39,17.5,-38,16.2,-37.2,16.1,-39.3,13.8,-37.4,13.7,-34.7,20.5,-34.1,14.3,-35.1,12.8,-33.1,15,-31.5,15.6,-30.8,18,-28.1,17.8,-26.5,18.4,-28.4,16.2,-27.9,15,-30,15,-31.5,13.7,-36.7,11.2,-35.3,10.6,-33.6,10.6,-31,12.5,-28.9,12.5,-26.8,15,-24.7,15.9,-22.7,15.6,-21.1,17.5,-20.1,15.9,-18.5,16.2,-18.5,15,-22.7,13.7,-20.1,13.1,-17,11.8,-14.3,19.5,-12.3,14.3,-11.2,12.5,-35,16,-33,17,-32,18,-29,17,-27,17,-25,17,-23,17,-25,15,-21,15,-30,14,-28,13,-26,13,-32,16,-36,15,-24,13,-19,14,-17,13,-15,15,-45,15,-41,14];
const pA29 = [-33,-1,-30,-2,-28,-3,-27,-4,-24,-5,-25,-7,-20,-6,-18,-6,-14,-8,-14,-11,-13,-8,-10,-9,-8,-11,-6,-12,-5,-11,-4,-12.5,-2,-11,-1,-13,1,-12,3,-14,4,-13,6,-12,-6,-14,-3,-15,-1,-17,-5,-16,2,-15,5,-16,7,-14,8,-13,10,-15,11,-17,3,-11,-8,-14,-3,-13,0,-15,-2,-10,5,-14,9,-12,-20,-9,-6.2,-11.8,-5.8,-11.5,-5.4,-12,-5,-11.6,-4.6,-12.2,-4.2,-11.7,-3.8,-12.3,-3.4,-12,-2.8,-12.8,-2,-13.5,-1.5,-13,-.8,-14.5,-.3,-14,.2,-15,3,-12.5,4.5,-12.3,5,-13,6,-13,7,-15,8,-15.5,9,-15,9.5,-15.4,10.5,-14,11,-14.5,3.5,-15,4,-16,2.5,-16,-2,-17.5,-.5,-16,13,-18,-14,-9.5,-13,-11,-11,-11,-12,-13,-7.5,-8];
const pA30 = [-29,-8.5,-26.5,-8.5,-23,-9.5,-20,-9,-16,-10,-15,-13.5,-17,-13,-14,-13,-12,-14,-11,-13.5,-10,-15,-7,-15.5,-9.5,-16,-14,-17,-11,-18,-6,-18,-5.5,-19.5,-5,-17,-5,-21,-2,-20.5,-2,-23,-2,-21.5,0,-20,-.5,-23,2,-20,2,-21,3,-21.5,5,-25,6,-25.5,7,-25,8,-25,8.7,-25.5,8.5,-27.5,7,-22,8,-20,8.5,-23,10.5,-22.5,11,-22,12,-20,13,-21,13,-23,14.5,-23,15,-19,16,-23,17,-23.5,18,-24,18.5,-22,19,-23,20,-24,20,-26,21.5,-26.5,20.5,-22,24.5,-21.5,26,-22.5,28,-23,28,-25,15,-20,10,-17,6,-18,3,-17,14,-19,-6,-12,0,-13];
const pA31 = [-29,4,-27,3,-25,1,-22,0,-19,-1,-17,-2,-15,-1,-13,-3,-11,-2,-9,-4,-7,-3,-5,-5,-3,-4,-1,-6,1,-5,3,-7,5,-6,7,-8,9,-7,11,-8,13,-9,15,-7,17,-8,19,-9,21,-7,23,-7,-4,-2,0,-3,4,-4,8,-5,12,-5,-10,-1,6,-9,2,-8,10,-6,14,-6,16,-9,-2,-7,-6,-6,5,-3,24,-6,27,-9,3,-9.5,-12,-.5,-10,-1.5,-9,-2.5,-8,-1,-7,-2,-6,-3,-5,-1.5,-4,-3.5,-3,-2.5,-2,-4,-1,-2.5,0,-4.5,1,-3,2,-5,3,-4,4,-6,5,-5,6,-7,7,-5.5,8,-7,9,-8,10,-6.5,11,-5.5,12,-7,13,-6,14,-8,15,-9,16,-6,17,-7,18,-5.5,20,-8,-8,-4.5,-3,-5.5,3,-8,9,-10,12,-10,15,-11,7,-10,-13,-1.5,-27,0,-24,-1,-21,2];
const pA32 = [-31,7,-28,5,-26,7,-24,4,-22,6,-20,4,-19,2,-17,3,-16,0,-15,4,-13,5,-12,2,-11,3,-10,1,-9,5,-8,3,-7,0,-6,4,-5,2,-4,-1,-3,3,-2,6,-1,1,0,4,1,-1,2,2,3,5,4,0,5,2,6,-2,7,1,8,4,9,-1,10,2,11,-3,12,0,14,-1,16,1,18,0,20,-2,-14,7,-8,7,-3,8,1,7,5,7,-18,7,-11,-1,-5,-2,-1,-3,3,-3,8,-3,13,-4,-21,1,-24,8,-22,9,-20,8,-23,7,-21,7,-27,8.5,-29,8,-18,5,-17,4,-16,3,-15,2.5,-14,2,-13,1.5,-12,1,-11,1.5,-10,.5,-9,1,-8,1.2,-7,.2,-6,.6,-5,0,-4,.8,-3,1,-2,-.5,-15.5,.8,-13.5,.4,-11.5,-.3,-9.5,-.8,-7.5,-1.2,-5.5,-1.5,-3.5,-1.6,-1.5,-1.8,.5,-2,2.5,-1,4.5,-1.5,-4.5,5,-2.5,4.5,-.5,3,1.5,4,3.5,3,5.5,3.5,6.5,5,2,8.5,4,8.5,7,8,8,7.5,-6,9,-4,7.5,-10,6.5,-12,5.5,-24,2.5,-26,3];
const samplePoints = [pA01,pA02,pA03,pA04,pA05,pA06,pA07,pA08,pA09,pA10,pA11,pA12,pA13,pA14,pA15,pA16,pA17,pA18,pA19,pA20,pA21,pA22,pA23,pA24,pA25,pA26,pA27,pA28,pA29,pA30,pA31,pA32];

// ---------- panel c data ----------
const cXTicks = [-30,-20,-10,0,10,20,30,40];
const cYTicks = [-20,-10,0,10,20,30];
const meanPC1 = [-1.96,-4.17,-20.4,6.57,.95,40.8,-8.15,-25.4,5.56,4.36,8.78,3.98,-14.3,9.8,16.55,5.18,7.39,14.7,-7.33,12.76,-4.6,-5.05,7.83,.5,5.43,14.9,-35.6,-26.7,-3.47,.06,-3.1,-6.76];
const meanPC2 = [-1.6,12.94,-20.5,3.5,4.72,33.5,14.1,-12.9,-12.6,-8.2,6.66,-14.1,-1.56,-1.75,-7.37,4.86,-3.1,-3.5,-8.03,-5.48,8.4,6.33,.19,7.55,-4.39,5.2,10.77,14.45,-10.86,-17.47,-2.36,2.88];

// ---------- panel d data ----------
const components = [1,2,3,4,5,6,7,8,9,10,11,12,13,14,15,16,17,18,19,20];
const varianceRatio = [63.34,23.78,10.31,.92,.75,.46,.13,.06,.05,.04,.03,.02,.02,.02,.01,.01,.01,.01,.01,.01];
const cumulativeRatio = [63.34,87.12,97.43,98.35,99.1,99.56,99.69,99.75,99.8,99.84,99.87,99.89,99.91,99.93,99.94,99.95,99.96,99.97,99.98,100];
const varianceLabels = ['63.34%','23.78%','10.31%','0.92%','0.75%','0.46%','0.13%'];
const dYTicks = [0,20,40,60,80,100];

// ---------- panel e data ----------
const eWavelengths = [450,480,510,540,570,600,625,650,675,700,725,750,775,800,825,850,875,900,925,950,965,975,985,1000,1030,1060,1100,1150,1200,1250,1300,1350,1400,1430,1460,1500,1560,1620,1670,1700,1730,1760,1800,1830,1870,1915,1950,2000,2040,2090,2140,2210,2260,2300,2340,2400];
const loadingPC1 = [.0238,.0238,.0237,.025,.0257,.027,.0302,.0335,.0362,.036,.0366,.0375,.0388,.0402,.0425,.0447,.0465,.0478,.0493,.05,.051,.0508,.0503,.0503,.0496,.0488,.048,.0473,.0475,.047,.0469,.0475,.0478,.048,.0477,.0475,.0473,.0476,.0479,.0475,.0476,.0476,.0477,.0477,.0479,.0473,.0467,.0472,.0472,.0468,.0475,.0478,.0474,.0469,.0467,.0469];
const loadingPC2 = [.0585,.0598,.0623,.0633,.0637,.0645,.0654,.064,.059,.0555,.049,.0437,.039,.0345,.029,.0225,.015,.008,.002,-.0055,-.009,-.0145,-.018,-.0208,-.025,-.028,-.031,-.0328,-.034,-.0345,-.0345,-.0347,-.034,-.0327,-.0335,-.0345,-.0345,-.0342,-.0333,-.0338,-.0339,-.0338,-.0342,-.0339,-.0336,-.0303,-.033,-.033,-.033,-.0345,-.0322,-.0314,-.0325,-.0342,-.0348,-.0341];
const loadingPC3 = [.0678,.0678,.067,.0645,.06,.05,.03,.008,-.018,-.04,-.0535,-.0612,-.0652,-.0668,-.0652,-.0615,-.0565,-.05,-.042,-.0335,-.028,-.016,-.0095,-.0072,-.002,.002,.0052,.0098,.0133,.0124,.0124,.0148,.0195,.0218,.0226,.0215,.0218,.021,.0208,.0198,.0214,.0208,.0194,.0216,.0205,.0256,.0248,.0244,.0243,.0222,.0234,.0248,.0238,.0224,.0194,.0213];
const loadingSeries = [loadingPC1,loadingPC2,loadingPC3];
const loadingColors = ['#1f77b4','#ff7f0e','#2ca02c'];
const eXTicks = [500,750,1000,1250,1500,1750,2000,2250];
const eYTicks = [-.06,-.04,-.02,0,.02,.04,.06];

// ---------- helpers ----------
const NS = 'http://www.w3.org/2000/svg';
function mk(tag, attrs, parent){
  const el = document.createElementNS(NS, tag);
  for (const k in attrs) el.setAttribute(k, attrs[k]);
  parent.appendChild(el);
  return el;
}
const byId = id => document.getElementById(id);
const minus = s => String(s).replace('-', '\u2212');

// axis functions
const aX = w => 634 + (w - 500) * 1.6676;
const aY = v => 1746 - 1938 * v;
const bX = v => 1095 + 12.87 * v;
const bY = v => 2862.5 - 15.22 * v;
const cX = v => 3066 + 20.35 * v;
const cY = v => 2913 - 20.26 * v;
const dX = n => 386 + 78.4 * (n - 1);
const dY = v => 4540 - 7.89 * v;
const eX = w => 2324 + (w - 500) * 0.8297;
const eY = v => 4112 - 5310 * v;

function tangents(xs, ys){
  const n = xs.length, s = [], m = new Array(n);
  for (let i = 0; i < n - 1; i++) s.push((ys[i + 1] - ys[i]) / (xs[i + 1] - xs[i]));
  m[0] = s[0]; m[n - 1] = s[n - 2];
  for (let i = 1; i < n - 1; i++) m[i] = s[i - 1] * s[i] <= 0 ? 0 : 2 * s[i - 1] * s[i] / (s[i - 1] + s[i]);
  return m;
}
function curve(xs, ys, move){
  const m = tangents(xs, ys);
  let d = (move ? 'M' : 'L') + xs[0].toFixed(1) + ' ' + ys[0].toFixed(1);
  for (let i = 0; i < xs.length - 1; i++){
    const h = (xs[i + 1] - xs[i]) / 3;
    d += 'C' + (xs[i] + h).toFixed(1) + ' ' + (ys[i] + m[i] * h).toFixed(1) + ' ' + (xs[i + 1] - h).toFixed(1) + ' ' + (ys[i + 1] - m[i + 1] * h).toFixed(1) + ' ' + xs[i + 1].toFixed(1) + ' ' + ys[i + 1].toFixed(1);
  }
  return d;
}

function drawAxis(opt){
  const gridG = byId(opt.gridId), tickG = byId(opt.tickId);
  opt.values.forEach((v, i) => {
    const p = opt.scale(v), label = opt.labels(v, i);
    if (opt.grid !== false){
      const g = mk('line', opt.vertical
        ? {x1: opt.lo, x2: opt.hi, y1: p, y2: p}
        : {x1: p, x2: p, y1: opt.lo, y2: opt.hi}, gridG);
      g.setAttribute('stroke', opt.gridColor);
      g.setAttribute('stroke-width', opt.gridWidth);
      g.setAttribute('stroke-dasharray', opt.dash);
      
      
    }
    const t = mk('line', opt.vertical
      ? {x1: opt.edge - opt.tickLen, x2: opt.edge, y1: p, y2: p}
      : {x1: p, x2: p, y1: opt.edge, y2: opt.edge + opt.tickLen}, tickG);
    t.setAttribute('stroke', '#222');
    t.setAttribute('stroke-width', 3.5);
    
    
    const lx = opt.vertical ? opt.labelPos : p, ly = opt.vertical ? p : opt.labelPos;
    const txt = mk('text', {
      'font-family': "'DejaVu Sans',sans-serif",
      'font-size': opt.font,
      'text-anchor': opt.vertical ? 'end' : 'middle',
      'dominant-baseline': 'central',
      transform: 'translate(' + lx + ',' + ly + ') scale(' + opt.sx + ',1)'
    }, tickG);
    txt.textContent = minus(label);
    
    
  });
}

function drawLegend(id, prefix, x0, y0, dx, dy, w, h, tx, font, sx){
  const g = byId(id);
  groupNames.forEach((name, i) => {
    const col = Math.floor(i / 4), row = i % 4;
    const sw = mk('rect', {x: x0 + col * dx, y: y0 + row * dy - h / 2, width: w, height: h, fill: groupColors[i]}, g);
    
    
    const t = mk('text', {
      'font-family': "'DejaVu Sans',sans-serif", 'font-size': font, 'dominant-baseline': 'central',
      transform: 'translate(' + (x0 + col * dx + tx) + ',' + (y0 + row * dy) + ') scale(' + sx + ',1)'
    }, g);
    t.textContent = name;
    
    
  });
}

// ---------- panel a ----------
drawAxis({gridId:'aGrid',tickId:'aTicks',prefix:'panel-a-x',values:aXTicks,scale:aX,labels:v=>String(v),vertical:false,lo:225,hi:1773,edge:1773,tickLen:18,labelPos:1837,font:60,sx:1,gridColor:'#d4d4d4',gridWidth:3,dash:'14 8'});
drawAxis({gridId:'aGrid',tickId:'aTicks',prefix:'panel-a-y',values:aYTicks,scale:aY,labels:v=>v.toFixed(1),vertical:true,lo:386,hi:3969,edge:386,tickLen:18,labelPos:350,font:60,sx:1,gridColor:'#d4d4d4',gridWidth:3,dash:'14 8'});
(function(){
  const xs = aWavelengths.map(aX);
  reflectance.forEach((vals, s) => {
    const sd = s === 5 ? sdA06 : (s === 2 || s === 7 ? sdLow : sdMain);
    const up = vals.map((v, i) => aY(v + sd[i]));
    const dn = vals.map((v, i) => aY(v - sd[i]));
    const d = curve(xs, up, true) + curve(xs.slice().reverse(), dn.slice().reverse(), false) + 'Z';
    const band = mk('path', {d: d, fill: groupColors[s], 'fill-opacity': .13, stroke: 'none'}, byId('aBands'));
    
    
  });
  reflectance.forEach((vals, s) => {
    const line = mk('path', {d: curve(xs, vals.map(aY), true), fill: 'none', stroke: groupColors[s], 'stroke-width': 5.5}, byId('aSeries'));
    
    
  });
})();
drawLegend('aLegend', 'panel-a', 2188, 280, 223.8, 48.3, 67, 24, 94, 32, 1);

// ---------- panel b ----------
drawAxis({gridId:'bGrid',tickId:'bTicks',prefix:'panel-b-x',values:bXTicks,scale:bX,labels:v=>String(v),vertical:false,lo:2179,hi:3383,edge:3383,tickLen:14,labelPos:3423,font:38,sx:.9,gridColor:'#e6e6e6',gridWidth:2.5,dash:'12 7'});
drawAxis({gridId:'bGrid',tickId:'bTicks',prefix:'panel-b-y',values:bYTicks,scale:bY,labels:v=>String(v),vertical:true,lo:327,hi:2036,edge:327,tickLen:14,labelPos:300,font:38,sx:.9,gridColor:'#e6e6e6',gridWidth:2.5,dash:'12 7'});
samplePoints.forEach((pts, s) => {
  const grp = mk('g', {fill: groupColors[s], 'fill-opacity': .88}, byId('bPoints'));
  
  
  for (let i = 0; i < pts.length; i += 2){
    const c = mk('ellipse', {cx: bX(pts[i]).toFixed(1), cy: bY(pts[i + 1]).toFixed(1), rx: 10.5, ry: 9.5}, grp);
    
    
  }
});
drawLegend('bLegend', 'panel-b', 343, 2206, 120.5, 26.4, 35, 12, 48, 19, .9);

// ---------- panel c ----------
drawAxis({gridId:'cGrid',tickId:'cTicks',prefix:'panel-c-x',values:cXTicks,scale:cX,labels:v=>String(v),vertical:false,lo:2179,hi:3383,edge:3383,tickLen:14,labelPos:3423,font:39,sx:.95,gridColor:'#e6e6e6',gridWidth:2.5,dash:'12 7'});
drawAxis({gridId:'cGrid',tickId:'cTicks',prefix:'panel-c-y',values:cYTicks,scale:cY,labels:v=>String(v),vertical:true,lo:2263,hi:3974,edge:2263,tickLen:14,labelPos:2240,font:39,sx:.95,gridColor:'#e6e6e6',gridWidth:2.5,dash:'12 7'});
drawLegend('cLegend', 'panel-c', 2358, 2254, 177, 38.7, 52, 16, 72, 27, .95);
groupNames.forEach((name, i) => {
  const c = mk('circle', {cx: cX(meanPC1[i]).toFixed(1), cy: cY(meanPC2[i]).toFixed(1), r: 19.5, fill: groupColors[i]}, byId('cPoints'));
  
  
});
groupNames.forEach((name, i) => {
  const t = mk('text', {
    'font-family': "'DejaVu Sans',sans-serif", 'font-size': 32, 'dominant-baseline': 'central',
    transform: 'translate(' + cX(meanPC1[i]).toFixed(1) + ',' + (cY(meanPC2[i]) - 2).toFixed(1) + ') scale(.95,1)'
  }, byId('cPoints'));
  t.textContent = name;
  
  
});

// ---------- panel d ----------
drawAxis({gridId:'dGrid',tickId:'dTicks',prefix:'panel-d-x',values:components,scale:dX,labels:v=>String(v),vertical:false,grid:false,edge:4540,tickLen:14,labelPos:4585,font:43,sx:.9});
drawAxis({gridId:'dGrid',tickId:'dTicks',prefix:'panel-d-y',values:dYTicks,scale:dY,labels:v=>String(v),vertical:true,lo:276,hi:1985,edge:276,tickLen:14,labelPos:250,font:43,sx:.9,gridColor:'#ebebeb',gridWidth:3,dash:'12 7'});
varianceRatio.forEach((v, i) => {
  const b = mk('rect', {x: dX(components[i]) - 31.4, y: dY(v), width: 62.8, height: 4540 - dY(v), fill: '#1f77b4'}, byId('dBars'));
  
  
});
(function(){
  const pts = cumulativeRatio.map((v, i) => dX(components[i]).toFixed(1) + ',' + dY(v).toFixed(1)).join(' ');
  const l = mk('polyline', {points: pts, fill: 'none', stroke: '#1f77b4', 'stroke-width': 5, 'stroke-dasharray': '20 9'}, byId('dLine'));
  
  
  cumulativeRatio.forEach((v, i) => {
    const c = mk('ellipse', {cx: dX(components[i]), cy: dY(v), rx: 13, ry: 12, fill: '#1f77b4'}, byId('dLine'));
    
    
  });
  // label anchors follow each bar: offset from the bar's centre and top
  const offX = [111, 76, 62, 42, 52, 59, 79];
  const offY = [-62, -76, -74, -66, -52, -52, -49];
  varianceLabels.forEach((s, i) => {
    const t = mk('text', {
      'font-family': '"Liberation Sans",sans-serif', 'font-size': 55, 'text-anchor': 'middle', 'dominant-baseline': 'central',
      transform: 'translate(' + (dX(components[i]) + offX[i]) + ',' + (dY(varianceRatio[i]) + offY[i]) + ') rotate(-38)'
    }, byId('dLabels'));
    t.textContent = s;
    
    
  });
})();

// ---------- panel e ----------
drawAxis({gridId:'eGrid',tickId:'eTicks',prefix:'panel-e-x',values:eXTicks,scale:eX,labels:v=>String(v),vertical:false,lo:3713,hi:4503,edge:4503,tickLen:12,labelPos:4536,font:34,sx:.92,gridColor:'#e6e6e6',gridWidth:2.5,dash:'12 7'});
drawAxis({gridId:'eGrid',tickId:'eTicks',prefix:'panel-e-y',values:eYTicks,scale:eY,labels:v=>v.toFixed(2),vertical:true,lo:2200,hi:3979,edge:2200,tickLen:12,labelPos:2183,font:34,sx:.92,gridColor:'#e6e6e6',gridWidth:2.5,dash:'12 7'});
loadingSeries.forEach((vals, s) => {
  const pts = vals.map((v, i) => eX(eWavelengths[i]).toFixed(1) + ',' + eY(v).toFixed(1)).join(' ');
  const l = mk('polyline', {points: pts, fill: 'none', stroke: loadingColors[s], 'stroke-width': 4.5, 'stroke-linejoin': 'round'}, byId('eLines'));
  
  
});
</script>
</body>
</html>
